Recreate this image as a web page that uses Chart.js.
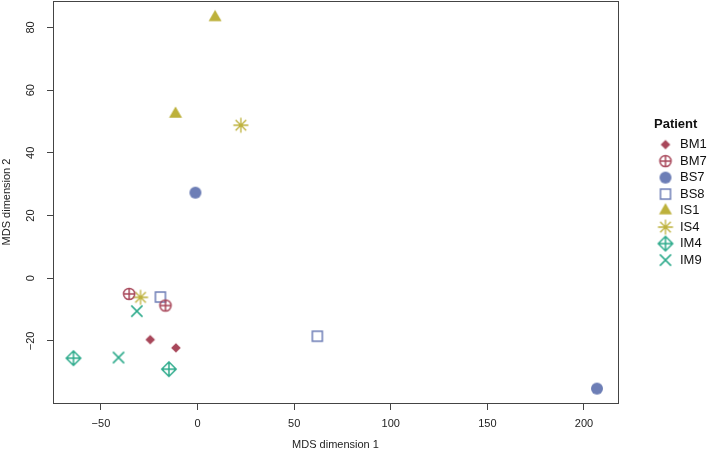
<!DOCTYPE html>
<html>
<head>
<meta charset="utf-8">
<script src="https://cdn.jsdelivr.net/npm/chart.js@4.4.1/dist/chart.umd.min.js"></script>
<style>
  html, body { margin: 0; padding: 0; background: #ffffff; }
  #wrap { width: 709px; height: 452px; }
  canvas { display: block; }
</style>
</head>
<body>
<div id="wrap"><canvas id="c" width="709" height="452"></canvas></div>
<script>
// ---- Data ----
const patients = ["BM1", "BM7", "BS7", "BS8", "IS1", "IS4", "IM4", "IM9"];
const bm1X = [-24.5, -11.2];  const bm1Y = [-19.6, -22.2];
const bm7X = [-35.4, -16.6];  const bm7Y = [-5.0, -8.7];
const bs7X = [-1.1, 206.7];   const bs7Y = [27.3, -35.2];
const bs8X = [-19.2, 62.0];   const bs8Y = [-6.0, -18.5];
const is1X = [9.1, -11.4];    const is1Y = [83.2, 52.4];
const is4X = [22.4, -29.5];   const is4Y = [48.8, -6.1];
const im4X = [-64.2, -14.8];  const im4Y = [-25.5, -29.0];
const im9X = [-31.4, -40.9];  const im9Y = [-10.5, -25.3];
const xTicks = [-50, 0, 50, 100, 150, 200];
const yTicks = [-20, 0, 20, 40, 60, 80];
const xTitle = "MDS dimension 1";
const yTitle = "MDS dimension 2";
const legendTitle = "Patient";

// ---- Styles ----
const RED = "#A8475A", BLUE = "#6D7EB6", OLIVE = "#BDB13B", TEAL = "#2CAA8B";

function makeSymbol(kind, color) {
  const S = 22, c = S / 2;
  const cv = document.createElement("canvas");
  cv.width = S; cv.height = S;
  const g = cv.getContext("2d");
  g.strokeStyle = color; g.fillStyle = color; g.lineWidth = 1.5;
  g.beginPath();
  if (kind === "diamondFilled") {
    const r = 4.8;
    g.moveTo(c - r, c); g.lineTo(c, c - r); g.lineTo(c + r, c); g.lineTo(c, c + r); g.closePath(); g.fill();
  } else if (kind === "circlePlus") {
    const r = 5.6;
    g.arc(c, c, r, 0, Math.PI * 2); g.moveTo(c - r, c); g.lineTo(c + r, c); g.moveTo(c, c - r); g.lineTo(c, c + r); g.stroke();
  } else if (kind === "circleFilled") {
    g.arc(c, c, 6, 0, Math.PI * 2); g.fill();
  } else if (kind === "squareOpen") {
    g.rect(c - 5, c - 5, 10, 10); g.stroke();
  } else if (kind === "triangleFilled") {
    const r = 7.5;
    g.moveTo(c, c - r); g.lineTo(c + r * 0.866, c + r / 2); g.lineTo(c - r * 0.866, c + r / 2); g.closePath(); g.fill();
  } else if (kind === "asterisk") {
    const r = 7.5;
    for (let k = 0; k < 4; k++) {
      const a = k * Math.PI / 4;
      g.moveTo(c - r * Math.cos(a), c - r * Math.sin(a)); g.lineTo(c + r * Math.cos(a), c + r * Math.sin(a));
    }
    g.lineWidth = 1.3; g.stroke();
  } else if (kind === "diamondPlus") {
    const r = 7.2;
    g.moveTo(c - r, c); g.lineTo(c, c - r); g.lineTo(c + r, c); g.lineTo(c, c + r); g.closePath();
    g.moveTo(c - r, c); g.lineTo(c + r, c); g.moveTo(c, c - r); g.lineTo(c, c + r); g.stroke();
  } else if (kind === "xcross") {
    const r = 5.6;
    g.moveTo(c - r, c - r); g.lineTo(c + r, c + r); g.moveTo(c - r, c + r); g.lineTo(c + r, c - r); g.stroke();
  }
  return cv;
}

function pts(xs, ys) { return xs.map((x, i) => ({ x: x, y: ys[i] })); }

const seriesX = [bm1X, bm7X, bs7X, bs8X, is1X, is4X, im4X, im9X];
const seriesY = [bm1Y, bm7Y, bs7Y, bs8Y, is1Y, is4Y, im4Y, im9Y];
const kinds = ["diamondFilled", "circlePlus", "circleFilled", "squareOpen", "triangleFilled", "asterisk", "diamondPlus", "xcross"];
const colors = [RED, RED, BLUE, BLUE, OLIVE, OLIVE, TEAL, TEAL];

const datasets = patients.map((name, i) => {
  const sym = makeSymbol(kinds[i], colors[i]);
  return {
    label: name,
    data: pts(seriesX[i], seriesY[i]),
    pointStyle: sym,
    pointRadius: 6,
    pointHoverRadius: 6,
    borderColor: colors[i],
    backgroundColor: colors[i]
  };
});

const FONT = "'Liberation Sans', Arial, sans-serif";
const AXIS = "#444444";
const minus = v => String(v).replace("-", "\u2212");
function noPad(s) { s.paddingTop = 0; s.paddingBottom = 0; s.paddingLeft = 0; s.paddingRight = 0; }

new Chart(document.getElementById("c"), {
  type: "scatter",
  data: { datasets: datasets },
  options: {
    responsive: false,
    animation: false,
    events: [],
    layout: { padding: 0, autoPadding: false },
    plugins: {
      tooltip: { enabled: false },
      legend: {
        position: "right",
        align: "start",
        maxWidth: 55,
        title: {
          display: true,
          text: legendTitle,
          position: "start",
          color: "#111",
          font: { family: FONT, size: 13, weight: "bold" },
          padding: { top: 117.5, bottom: 1.5 }
        },
        labels: {
          usePointStyle: true,
          pointStyleWidth: 16,
          padding: 3.5,
          color: "#111",
          font: { family: FONT, size: 13 }
        }
      }
    },
    scales: {
      x: {
        type: "linear",
        position: "bottom",
        min: -74.8,
        max: 217.6,
        afterBuildTicks: s => { s.ticks = xTicks.map(v => ({ value: v })); },
        afterFit: s => { s.height = 49; noPad(s); },
        grid: { display: true, drawOnChartArea: false, drawTicks: true, tickLength: 7, color: AXIS, lineWidth: 1 },
        border: { display: true, color: AXIS, width: 1 },
        ticks: { padding: 7.5, color: "#222", font: { family: FONT, size: 11 }, callback: v => minus(v) },
        title: { display: true, text: xTitle, color: "#222", font: { family: FONT, size: 11 }, padding: 0 }
      },
      x2: {
        type: "linear",
        position: "top",
        min: -74.8,
        max: 217.6,
        afterFit: s => { s.height = 1; noPad(s); },
        grid: { display: false, drawTicks: false },
        border: { display: true, color: AXIS, width: 1 },
        ticks: { display: false }
      },
      y: {
        type: "linear",
        position: "left",
        min: -39.8,
        max: 88.43,
        afterBuildTicks: s => { s.ticks = yTicks.map(v => ({ value: v })); },
        afterFit: s => { s.width = 53; noPad(s); },
        grid: { display: true, drawOnChartArea: false, drawTicks: true, tickLength: 6, color: AXIS, lineWidth: 1 },
        border: { display: true, color: AXIS, width: 1 },
        ticks: { padding: 7, minRotation: 90, maxRotation: 90, crossAlign: "center", color: "#222", font: { family: FONT, size: 11 }, callback: v => minus(v) },
        title: { display: true, text: yTitle, color: "#222", font: { family: FONT, size: 11 }, padding: 0 }
      },
      y2: {
        type: "linear",
        position: "right",
        min: -39.8,
        max: 88.43,
        afterFit: s => { s.width = 36; noPad(s); },
        grid: { display: false, drawTicks: false },
        border: { display: true, color: AXIS, width: 1 },
        ticks: { display: false }
      }
    }
  }
});
</script>
</body>
</html>
